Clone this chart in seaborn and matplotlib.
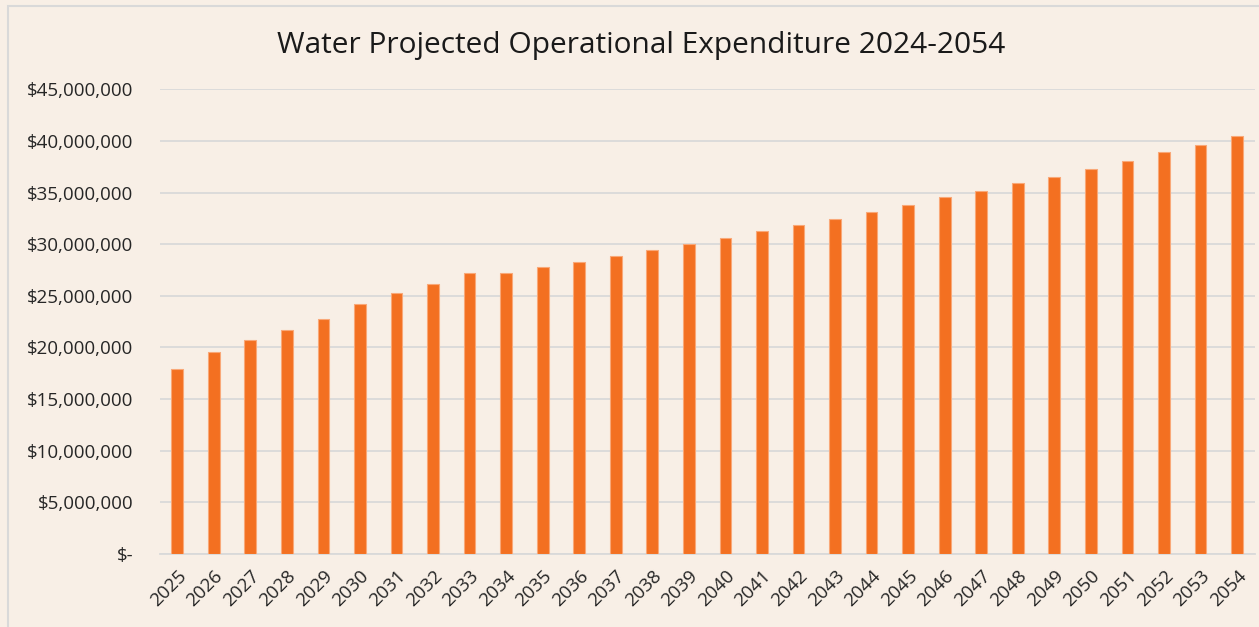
import matplotlib
matplotlib.use("Agg")
import matplotlib.pyplot as plt
import matplotlib.ticker as mticker
from matplotlib.patches import Rectangle
import seaborn as sns
import pandas as pd

years = [str(y) for y in range(2025, 2055)]
expenditure = [
    17.89e6, 19.56e6, 20.69e6, 21.69e6, 22.73e6, 24.21e6, 25.31e6, 26.15e6,
    27.18e6, 27.18e6, 27.76e6, 28.28e6, 28.86e6, 29.41e6, 30.05e6, 30.63e6,
    31.25e6, 31.83e6, 32.47e6, 33.12e6, 33.76e6, 34.54e6, 35.15e6, 35.90e6,
    36.54e6, 37.28e6, 38.06e6, 38.90e6, 39.61e6, 40.45e6,
]
title = "Water Projected Operational Expenditure 2024-2054"

BG = "#F8EFE6"
BAR = "#F37021"
GRID = "#D9D9D9"
TXT = "#262626"

sns.set_theme(style="white")
plt.rcParams["font.family"] = ["Open Sans", "DejaVu Sans"]

df = pd.DataFrame({"Year": years, "Expenditure": expenditure})

fig = plt.figure(figsize=(12.59, 6.27), dpi=100, facecolor=BG)
ax = fig.add_axes([160 / 1259, 1 - 554 / 627, (1255 - 160) / 1259, (554 - 89.3) / 627])
ax.set_facecolor(BG)

sns.barplot(data=df, x="Year", y="Expenditure", color=BAR, width=0.32,
            saturation=1, ax=ax, zorder=3, edgecolor="#F9A878", linewidth=0.8)

ax.set_ylim(0, 45e6)
ax.set_xlim(-0.47, len(years) - 0.51)
ax.yaxis.set_major_locator(mticker.MultipleLocator(5e6))


def fmt(v, pos):
    if v == 0:
        return "$-"
    return "${:,.0f}".format(v)


ax.yaxis.set_major_formatter(mticker.FuncFormatter(fmt))
ax.grid(axis="y", color=GRID, linewidth=1.3, zorder=0)
ax.set_axisbelow(True)
for s in ["top", "right", "left"]:
    ax.spines[s].set_visible(False)
ax.spines["bottom"].set_color(GRID)
ax.spines["bottom"].set_linewidth(1.3)
ax.set_xlabel("")
ax.set_ylabel("")
ax.tick_params(axis="y", length=0, pad=19, labelsize=13.5, labelcolor=TXT)
ax.tick_params(axis="x", length=0, pad=9, labelsize=13.5, labelcolor=TXT)
plt.setp(ax.get_xticklabels(), rotation=45, ha="right", rotation_mode="anchor")

fig.text(641 / 1259, 1 - 45 / 627, title, ha="center", va="center", fontsize=21.5, color="#1a1a1a")

fig.patches.append(Rectangle((8 / 1259, -0.01), 1.1, 1 - 6 / 627 + 0.01,
                             transform=fig.transFigure, fill=False,
                             edgecolor="#D9D9D9", linewidth=1.5))

fig.savefig("out.png", dpi=100, facecolor=BG)
